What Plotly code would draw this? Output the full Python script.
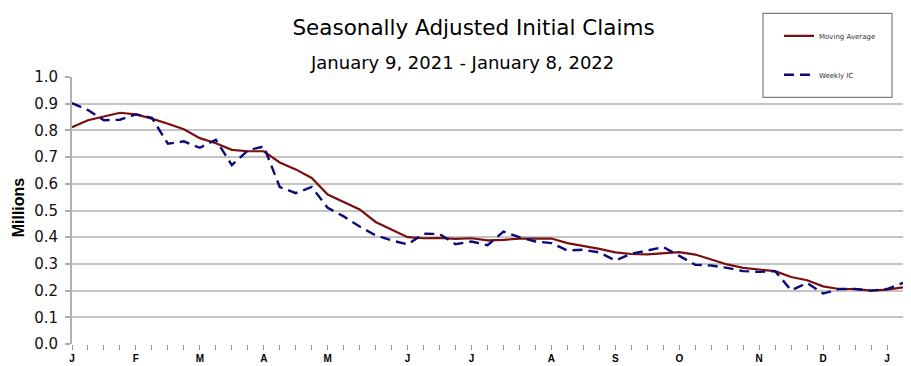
import plotly.graph_objects as go

weeks = list(range(53))
month_pos = [0, 4, 8, 12, 16, 21, 25, 30, 34, 38, 43, 47, 51]
month_lbl = ["J", "F", "M", "A", "M", "J", "J", "A", "S", "O", "N", "D", "J"]

moving_avg = [0.812, 0.838, 0.852, 0.866, 0.860, 0.844, 0.825, 0.804, 0.771, 0.752,
              0.727, 0.722, 0.722, 0.680, 0.654, 0.622, 0.560, 0.532, 0.504, 0.457,
              0.428, 0.400, 0.396, 0.397, 0.394, 0.396, 0.388, 0.390, 0.395, 0.395,
              0.395, 0.378, 0.368, 0.356, 0.343, 0.337, 0.336, 0.340, 0.344, 0.335,
              0.316, 0.298, 0.285, 0.279, 0.273, 0.251, 0.239, 0.216, 0.206, 0.206,
              0.200, 0.204, 0.212]

weekly_ic = [0.902, 0.876, 0.838, 0.840, 0.860, 0.847, 0.750, 0.759, 0.735, 0.765,
             0.670, 0.725, 0.740, 0.588, 0.565, 0.588, 0.510, 0.478, 0.440, 0.407,
             0.388, 0.373, 0.413, 0.412, 0.374, 0.384, 0.370, 0.421, 0.400, 0.384,
             0.378, 0.350, 0.353, 0.343, 0.313, 0.338, 0.350, 0.363, 0.330, 0.297,
             0.294, 0.285, 0.273, 0.270, 0.273, 0.201, 0.229, 0.189, 0.206, 0.206,
             0.200, 0.206, 0.229]

FONT = "DejaVu Sans, Liberation Sans, Arial, sans-serif"

# the page body adds an 8px margin, so the figure is drawn 8px smaller and
# all target pixel positions (taken in page coordinates) are shifted by -8
OFF = 8
W, H = 911 - OFF, 366 - OFF
L, R, T, B = 72 - OFF, 903 - OFF, 76.7 - OFF, 343.7 - OFF
PW, PH = R - L, B - T


def px(x):
    return (x - OFF - L) / PW


def py(y):
    return (B - (y - OFF)) / PH


fig = go.Figure()
fig.add_trace(go.Scatter(
    x=weeks, y=moving_avg, mode="lines", name="Moving Average",
    line=dict(color="#7a0f0f", width=2.2), legendgroup="a"))
fig.add_trace(go.Scatter(
    x=weeks, y=weekly_ic, mode="lines", name="Weekly IC",
    line=dict(color="#0a0a78", width=2.4, dash="10px,6px"), legendgroup="b"))

# legend frame
fig.add_shape(type="rect", xref="paper", yref="paper",
              x0=px(763), x1=px(892), y0=py(97), y1=py(13),
              line=dict(color="#7f7f7f", width=1.2), fillcolor="white", layer="above")

fig.update_layout(
    width=W, height=H,
    margin=dict(l=L, r=W - R, t=T, b=H - B, autoexpand=False),
    paper_bgcolor="white", plot_bgcolor="white",
    font=dict(family=FONT, color="#000000"),
    title=dict(text="Seasonally Adjusted Initial Claims", x=(473.5 - OFF) / W, xanchor="center",
               y=1 - (27 - OFF) / H, yanchor="middle", font=dict(size=21.5, family=FONT)),
    annotations=[
        dict(text="January 9, 2021 - January 8, 2022", xref="paper", yref="paper",
             x=px(462), y=py(62), xanchor="center", yanchor="middle",
             showarrow=False, font=dict(size=18, family=FONT)),
        dict(text="<b>Millions</b>", xref="paper", yref="paper", textangle=-90,
             x=px(18), y=py(207), xanchor="center", yanchor="middle",
             showarrow=False, font=dict(size=16, family="Liberation Sans, Arial, sans-serif")),
    ],
    showlegend=True,
    legend=dict(x=px(779), y=py(21), xanchor="left", yanchor="top",
                bgcolor="rgba(0,0,0,0)", borderwidth=0,
                font=dict(size=7, family=FONT, color="#333"),
                tracegroupgap=20, itemwidth=30),
    xaxis=dict(range=[0, 52], tickmode="array", tickvals=month_pos,
               ticktext=["<b>%s</b>" % m for m in month_lbl],
               ticks="outside", ticklen=5, tickcolor="#999", tickwidth=1,
               tickfont=dict(size=10, family="Liberation Sans, Arial", color="#000"),
               showgrid=False, zeroline=False, showline=False, automargin=False,
               minor=dict(ticks="outside", ticklen=5, tickcolor="#999", dtick=1, tick0=0, showgrid=False)),
    yaxis=dict(range=[0, 1], dtick=0.1, tickformat=".1f", ticks="outside", ticklen=5,
               tickcolor="#aaa", tickwidth=1.5, automargin=False, ticklabelstandoff=4,
               tickfont=dict(size=15, family=FONT, color="#111"),
               showgrid=True, gridcolor="#c4c4c4", gridwidth=1.5, zeroline=False,
               showline=True, linecolor="#b0b0b0", linewidth=2, mirror=True),
)

fig.write_html("out.html")
